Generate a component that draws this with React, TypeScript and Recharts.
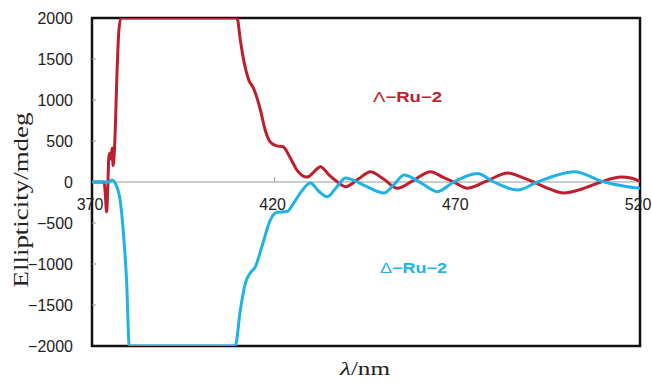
import React from 'react';
import { LineChart, Line, XAxis, YAxis, ReferenceLine, ReferenceArea } from 'recharts';

// Λ-Ru-2 (red) wavelength / ellipticity
const lambdaWl = [370, 373.3, 373.6, 374.0, 374.3, 374.6, 374.9, 375.2, 375.5, 375.8, 376.2, 376.9, 377.3, 377.9, 409.7, 410.6, 411.5, 412.9, 414.2, 416.1, 417.4, 418.8, 420.6, 422.3, 424.2, 426.1, 428.9, 430.7, 432.5, 435.0, 437.2, 439.4, 443.0, 446.2, 450.0, 453.6, 458.0, 462.7, 466.0, 469.0, 472.8, 478.0, 483.8, 487.5, 490.9, 495.0, 499.1, 504.5, 509.3, 514.8, 517.5, 520.3];
const lambdaVal = [0, 0, -120, -365, -100, 300, 350, 280, 415, 200, 450, 1400, 1810, 2000, 2000, 1730, 1490, 1245, 1146, 878, 634, 488, 440, 430, 300, 146, 60, 120, 187, 80, 0, -57, 40, 126, 30, -77, 20, 126, 60, 0, -75, 10, 110, 60, 0, -80, -134, -80, 0, 60, 50, 0];

// Δ-Ru-2 (cyan) wavelength / ellipticity
const deltaWl = [370, 374.8, 375.4, 376.0, 376.8, 377.7, 378.6, 379.5, 380.2, 409.2, 410.6, 412.0, 413.3, 414.7, 416.5, 418.8, 420.6, 423.4, 425.3, 427.0, 429.8, 432.0, 434.4, 437.0, 439.4, 444.5, 449.9, 452.7, 455.4, 460.0, 464.5, 469.0, 475.5, 480.0, 486.5, 491.9, 502.0, 510.2, 516.6, 520.3];
const deltaVal = [0, 0, 25, 10, -57, -220, -620, -1230, -2000, -2000, -1560, -1230, -1110, -1035, -790, -465, -370, -360, -250, -135, -12, -110, -180, -60, 50, -40, -135, -30, 85, -10, -118, 0, 105, 0, -98, 0, 126, 0, -57, -77];

const xTicks = [370, 420, 470, 520];
const yTicks = [-2000, -1500, -1000, -500, 0, 500, 1000, 1500, 2000];

const lambdaData = lambdaWl.map((wl, i) => ({ wl, v: lambdaVal[i] }));
const deltaData = deltaWl.map((wl, i) => ({ wl, v: deltaVal[i] }));

const RED = '#BE1E2D';
const CYAN = '#1EB2E8';
const PLOT_H = 328;
const SANS = '"Liberation Sans", Arial, sans-serif';
const SERIF = '"Liberation Serif", "Times New Roman", serif';

const YTick = (props: any) => {
  const { x, y, payload } = props;
  const v = payload.value;
  const label = v < 0 ? '\u2212' + Math.abs(v) : String(v);
  return (
    <g>
      {v !== 0 && Math.abs(v) !== 2000 && (
        <line x1={x} x2={x + 4} y1={y} y2={y} stroke="#999" strokeWidth={1} />
      )}
      <text x={x - 19} y={y} dy="0.36em" textAnchor="end" fontFamily={SANS} fontSize={16} fill="#222">
        {label}
      </text>
    </g>
  );
};

const XTick = (props: any) => {
  const { x, y, payload } = props;
  const v = payload.value;
  const zeroY = y - PLOT_H / 2;
  return (
    <g>
      {v !== 370 && v !== 520 && (
        <line x1={x} x2={x} y1={zeroY} y2={zeroY - 5} stroke="#999" strokeWidth={1} />
      )}
      <text x={x - 2} y={zeroY + 28} textAnchor="middle" fontFamily={SANS} fontSize={16} fill="#222">
        {v}
      </text>
    </g>
  );
};

export default function App() {
  return (
    <div style={{ position: 'absolute', left: 0, top: 0, width: 652, height: 389, background: '#fff' }}>
      <LineChart
        width={652}
        height={389}
        margin={{ top: 18, right: 12, bottom: 13, left: 0 }}
      >
        <XAxis
          dataKey="wl"
          type="number"
          domain={[370, 520]}
          ticks={xTicks}
          allowDataOverflow
          axisLine={false}
          tickLine={false}
          tickSize={0}
          tickMargin={0}
          height={30}
          tick={<XTick />}
          interval={0}
        />
        <YAxis
          type="number"
          domain={[-2000, 2000]}
          ticks={yTicks}
          allowDataOverflow
          width={92}
          axisLine={false}
          tickLine={false}
          tickSize={0}
          tickMargin={0}
          tick={<YTick />}
          interval={0}
        />
        <ReferenceLine y={0} stroke="#999" strokeWidth={1} />
        <Line
          data={lambdaData}
          dataKey="v"
          type="monotone"
          stroke={RED}
          strokeWidth={3}
          dot={false}
          isAnimationActive={false}
        />
        <Line
          data={deltaData}
          dataKey="v"
          type="monotone"
          stroke={CYAN}
          strokeWidth={3}
          dot={false}
          isAnimationActive={false}
        />
        <ReferenceArea x1={370} x2={520} y1={-2000} y2={2000} fill="none" fillOpacity={0} stroke="#111" strokeOpacity={1} strokeWidth={2.5} />
      </LineChart>
      <svg width={652} height={389} style={{ position: 'absolute', left: 0, top: 0, pointerEvents: 'none' }}>
        <text
          transform="translate(28,200) rotate(-90)"
          textAnchor="middle"
          fontFamily={SERIF}
          fontSize={20}
          fill="#222"
          textLength={175}
          lengthAdjust="spacingAndGlyphs"
        >
          Ellipticity/mdeg
        </text>
        <text x={340} y={375} fontFamily={SERIF} fontSize={19} fill="#222" textLength={50} lengthAdjust="spacingAndGlyphs">
          <tspan fontStyle="italic">λ</tspan>/nm
        </text>
        <text x={373} y={102} fontFamily={SANS} fontSize={14} fill={RED} textLength={69} lengthAdjust="spacingAndGlyphs">
          Λ<tspan fontWeight="bold">−Ru−2</tspan>
        </text>
        <text x={380} y={273} fontFamily={SANS} fontSize={14} fill={CYAN} textLength={67} lengthAdjust="spacingAndGlyphs">
          Δ<tspan fontWeight="bold">−Ru−2</tspan>
        </text>
      </svg>
    </div>
  );
}
